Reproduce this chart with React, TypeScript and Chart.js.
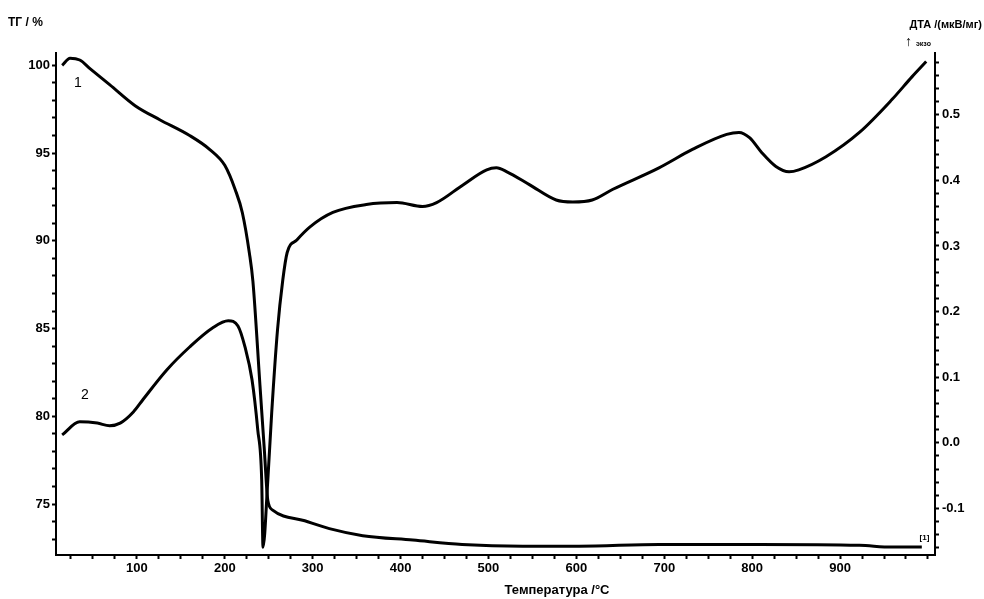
import { useEffect, useRef } from 'react';
import { Chart, registerables } from 'chart.js';
Chart.register(...registerables);

// Curve 1: TG (%), left axis
const tgTemps = [15, 24, 35, 47, 69, 98, 126, 160, 183, 200, 212, 220, 228, 232, 240, 245, 249, 254.5, 291, 319, 357, 414, 470, 539, 603, 694, 808, 922, 959, 993];
const tgValues = [100.0, 100.4, 100.3, 99.8, 98.9, 97.7, 96.9, 96.0, 95.2, 94.3, 92.9, 91.6, 89.3, 87.7, 81.8, 78.1, 75.2, 74.66, 74.05, 73.6, 73.2, 72.95, 72.7, 72.6, 72.6, 72.7, 72.7, 72.65, 72.55, 72.55];

// Curve 2: DTA (mW/mg), right axis
const dtaTemps = [15, 35, 55, 69, 81, 96, 107, 134, 160, 186, 204, 215, 223, 231, 237.5, 242, 243.5, 249, 253.4, 260, 266, 271, 282, 297, 323, 361, 396, 425, 441, 471, 498, 509, 521, 547, 577, 596, 618, 641, 694, 732, 771, 785, 797, 811, 827, 842, 853, 884, 922, 959, 982, 998];
const dtaValues = [0.012, 0.032, 0.030, 0.026, 0.030, 0.047, 0.066, 0.111, 0.146, 0.175, 0.186, 0.178, 0.146, 0.096, 0.020, -0.056, -0.159, -0.056, 0.046, 0.172, 0.248, 0.290, 0.309, 0.329, 0.351, 0.363, 0.366, 0.360, 0.366, 0.393, 0.416, 0.419, 0.413, 0.393, 0.370, 0.367, 0.370, 0.386, 0.419, 0.447, 0.470, 0.473, 0.465, 0.442, 0.421, 0.413, 0.416, 0.436, 0.473, 0.523, 0.558, 0.581];

const xTickLabels = [100, 200, 300, 400, 500, 600, 700, 800, 900];
const tgTickLabels = [75, 80, 85, 90, 95, 100];
const dtaTickLabels = [-0.1, 0.0, 0.1, 0.2, 0.3, 0.4, 0.5];

const X_MIN = 8, X_MAX = 1008;
const TG_MIN = 72.1, TG_MAX = 100.7;
const DTA_MIN = -0.171, DTA_MAX = 0.594;

const FONT = 'Liberation Sans, Arial, sans-serif';

function range(a: number, b: number, step: number, dec: number) {
  const out: number[] = [];
  for (let v = a; v <= b + step / 2; v += step) out.push(Number(v.toFixed(dec)));
  return out;
}

const textPlugin = {
  id: 'texts',
  afterDraw(chart: any) {
    const ctx = chart.ctx;
    const x = chart.scales.x, yL = chart.scales.yL, yR = chart.scales.yR;
    ctx.save();
    ctx.fillStyle = '#000';
    ctx.textBaseline = 'middle';
    ctx.font = `bold 12px ${FONT}`;
    ctx.textAlign = 'left';
    ctx.fillText('ТГ / %', 8, 23);
    ctx.font = `bold 11px ${FONT}`;
    ctx.textAlign = 'right';
    ctx.fillText('ДТА /(мкВ/мг)', 982, 25);
    ctx.font = `bold 14px ${FONT}`;
    ctx.textAlign = 'left';
    ctx.fillText('↑', 905, 42);
    ctx.font = `bold 7px ${FONT}`;
    ctx.fillText('экзо', 916, 44);
    ctx.font = `bold 13px ${FONT}`;
    ctx.textAlign = 'center';
    ctx.fillText('Температура /°C', 557, 590);
    ctx.font = `14px ${FONT}`;
    ctx.fillText('1', x.getPixelForValue(33), yL.getPixelForValue(99.0));
    ctx.fillText('2', x.getPixelForValue(41), yR.getPixelForValue(0.073));
    ctx.font = `bold 8px ${FONT}`;
    ctx.fillText('[1]', x.getPixelForValue(996), yL.getPixelForValue(73.1));
    ctx.restore();
  },
};

export default function App() {
  const ref = useRef<HTMLCanvasElement | null>(null);
  useEffect(() => {
    if (!ref.current) return;
    const tickFont = { family: FONT, size: 13, weight: 'bold' as const };
    const chart = new Chart(ref.current, {
      type: 'line',
      data: {
        datasets: [
          {
            label: 'ТГ',
            data: tgTemps.map((t, i) => ({ x: t, y: tgValues[i] })),
            borderColor: '#000',
            borderWidth: 3,
            pointRadius: 0,
            cubicInterpolationMode: 'monotone',
            yAxisID: 'yL',
          },
          {
            label: 'ДТА',
            data: dtaTemps.map((t, i) => ({ x: t, y: dtaValues[i] })),
            borderColor: '#000',
            borderWidth: 3,
            pointRadius: 0,
            cubicInterpolationMode: 'monotone',
            yAxisID: 'yR',
          },
        ],
      },
      options: {
        animation: false,
        responsive: true,
        maintainAspectRatio: false,
        layout: { padding: { top: 53, left: 0, right: 0, bottom: 0 } },
        plugins: { legend: { display: false }, tooltip: { enabled: false } },
        scales: {
          x: {
            type: 'linear',
            min: X_MIN,
            max: X_MAX,
            afterBuildTicks: (s: any) => { s.ticks = range(25, 1000, 25, 0).map((v) => ({ value: v })); },
            afterFit: (s: any) => { s.height = 44; },
            ticks: {
              autoSkip: false,
              maxRotation: 0,
              color: '#000',
              font: tickFont,
              padding: 2,
              callback: (v: any) => (xTickLabels.includes(Number(v)) ? String(v) : ''),
            },
            grid: { drawOnChartArea: false, tickLength: 4, color: '#000', tickWidth: 2 },
            border: { color: '#000', width: 2 },
          },
          yL: {
            type: 'linear',
            position: 'left',
            min: TG_MIN,
            max: TG_MAX,
            afterBuildTicks: (s: any) => { s.ticks = range(73, 100, 1, 0).map((v) => ({ value: v })); },
            afterFit: (s: any) => { s.width = 56; },
            ticks: {
              autoSkip: false,
              color: '#000',
              font: tickFont,
              padding: 2,
              callback: (v: any) => (tgTickLabels.includes(Number(v)) ? String(v) : ''),
            },
            grid: { drawOnChartArea: false, tickLength: 4, color: '#000', tickWidth: 2 },
            border: { color: '#000', width: 2 },
          },
          yR: {
            type: 'linear',
            position: 'right',
            min: DTA_MIN,
            max: DTA_MAX,
            afterBuildTicks: (s: any) => { s.ticks = range(-0.16, 0.58, 0.02, 2).map((v) => ({ value: v })); },
            afterFit: (s: any) => { s.width = 49; },
            ticks: {
              autoSkip: false,
              color: '#000',
              font: tickFont,
              padding: 3,
              callback: (v: any) => {
                const n = Number(v);
                const hit = dtaTickLabels.find((t) => Math.abs(t - n) < 1e-6);
                return hit !== undefined ? hit.toFixed(1) : '';
              },
            },
            grid: { drawOnChartArea: false, tickLength: 4, color: '#000', tickWidth: 2 },
            border: { color: '#000', width: 2 },
          },
        },
      },
      plugins: [textPlugin],
    });
    return () => chart.destroy();
  }, []);
  return (
    <div style={{ position: 'fixed', left: 0, top: 0, width: 984, height: 599, background: '#fff' }}>
      <canvas ref={ref} />
    </div>
  );
}
